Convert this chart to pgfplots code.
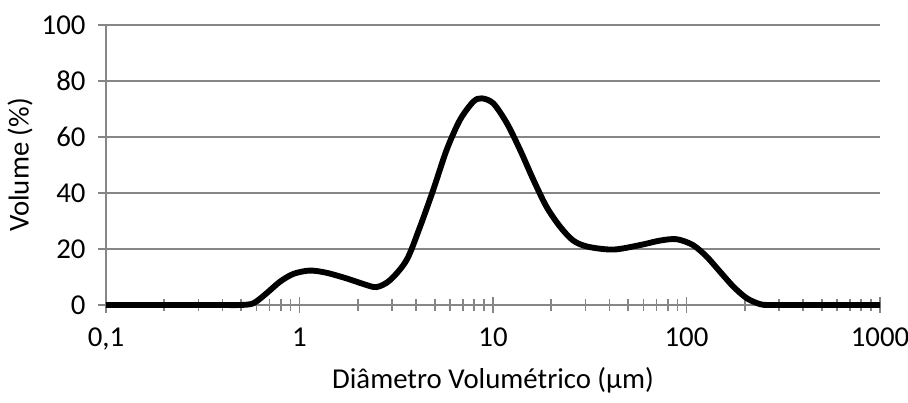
\documentclass[border=0pt]{standalone}
\usepackage{pgfplots}
\pgfplotsset{compat=1.18}
\usepackage{fontspec}
\setmainfont{Carlito}
\definecolor{axgray}{HTML}{868686}
\begin{document}
\fontsize{10.8pt}{13pt}\selectfont
\begin{tikzpicture}
\useasboundingbox (-39.75pt,-36.75pt) rectangle (300.75pt,114.375pt);
\begin{axis}[
  at={(0,0)}, anchor=south west,
  scale only axis, width=290.25pt, height=105pt,
  xmode=log, xmin=0.1, xmax=1000, ymin=0, ymax=100,
  axis x line=bottom, axis y line=left,
  axis line style={-, axgray, line width=0.6pt},
  xtick={0.1,1,10,100,1000}, xticklabels={{0,1},1,10,100,1000},
  minor xtick={0.2,0.3,0.4,0.5,0.6,0.7,0.8,0.9,2,3,4,5,6,7,8,9,20,30,40,50,60,70,80,90,200,300,400,500,600,700,800,900},
  ytick={0,20,40,60,80,100},
  ymajorgrids, grid style={axgray, line width=0.6pt},
  tick style={axgray, line width=0.6pt},
  tick align=center, major tick length=5.8pt, minor tick length=4.2pt,
  /pgf/number format/assume math mode=true,
  tick label style={font=\fontsize{10.8pt}{13pt}\selectfont, text=black},
  xticklabel style={yshift=-2pt},
  yticklabel style={xshift=-1pt},
  xlabel={Diâmetro Volumétrico (µm)}, ylabel={Volume (\%)},
  label style={font=\fontsize{10.8pt}{13pt}\selectfont, text=black},
  xlabel style={at={(axis description cs:0.5,-0.268)}, anchor=center},
  ylabel style={at={(axis description cs:-0.111,0.5)}, anchor=center},
  clip=false,
]
\addplot[black, line width=2.2pt, smooth, tension=0.5] coordinates {
(0.1,0) (0.2,0) (0.3,0) (0.4,0) (0.49,0) (0.577,0.6) (0.676,4.2) (0.792,8.3) (0.929,11.1)
(1.13,12.3) (1.38,11.5) (1.75,9.5) (2.14,7.5) (2.5,6.4) (2.94,8.9) (3.58,16.1)
(4.20,28.0) (4.91,41.1) (5.76,55.4) (6.75,66.1) (7.91,72.6) (8.75,73.8) (10.04,72.0)
(11.8,64.9) (13.8,55.4) (16.2,44.6) (18.9,35.1) (22.2,28.0) (26.0,23.0) (31.0,20.8)
(41.9,19.8) (57.5,21.4) (72.9,23.0) (88.9,23.5) (108,21.4) (127,17.3) (149,11.9)
(175,6.5) (205,2.4) (240,0.3) (270,0) (400,0) (600,0) (1000,0)
};
\end{axis}
\end{tikzpicture}
\end{document}
